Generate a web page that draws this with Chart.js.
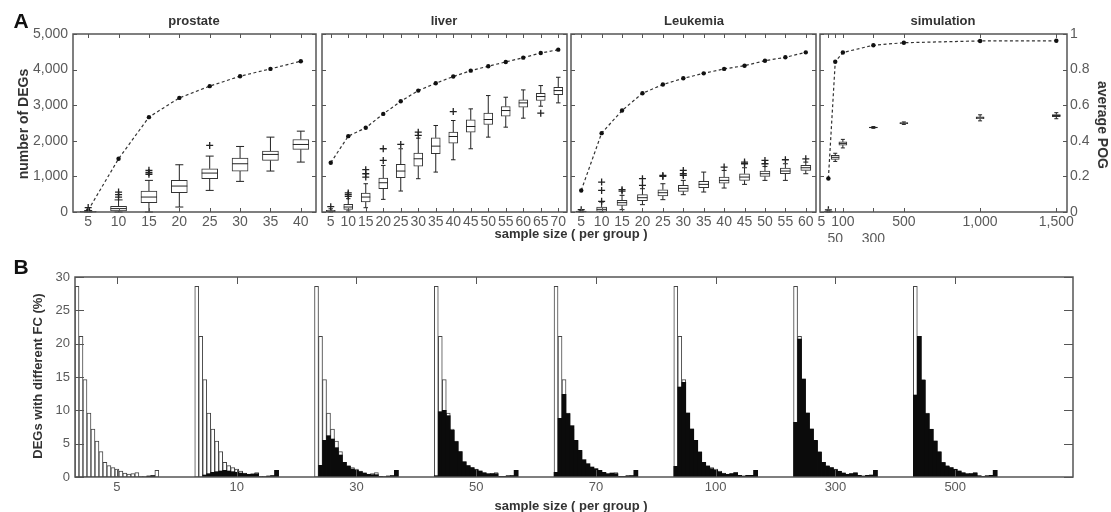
<!DOCTYPE html>
<html>
<head>
<meta charset="utf-8">
<title>DEGs and sample size</title>
<script src="https://cdn.jsdelivr.net/npm/chart.js@4.4.1/dist/chart.umd.min.js"></script>
<style>
  body { margin: 0; background: #fff; }
  #wrap { position: relative; width: 1111px; height: 512px; overflow: hidden; font-family: 'Liberation Sans', Arial, sans-serif; }
  #wrap canvas { position: absolute; left: 0; top: 0; }
  .t { position: absolute; transform: translate(-50%, -50%); white-space: nowrap; color: #333; font-weight: bold; font-size: 13px; }
  .up { transform: translate(-50%, -50%) rotate(-90deg); }
  .down { transform: translate(-50%, -50%) rotate(90deg); }
</style>
</head>
<body>
<div id="wrap">
  <canvas id="cProstate" width="1111" height="512"></canvas>
  <canvas id="cLiver" width="1111" height="512"></canvas>
  <canvas id="cLeuk" width="1111" height="512"></canvas>
  <canvas id="cSim" width="1111" height="512"></canvas>
  <canvas id="cHist" width="1111" height="512"></canvas>

  <div class="t" style="left:21px;top:21px;font-size:21px;color:#111">A</div>
  <div class="t" style="left:21px;top:267px;font-size:21px;color:#111">B</div>
  <div class="t" style="left:194px;top:20px">prostate</div>
  <div class="t" style="left:444px;top:20px">liver</div>
  <div class="t" style="left:694px;top:20px">Leukemia</div>
  <div class="t" style="left:943px;top:20px">simulation</div>
  <div class="t up" style="left:23px;top:124px;font-size:14px">number of DEGs</div>
  <div class="t down" style="left:1103px;top:125px;font-size:14px">average POG</div>
  <div class="t" style="left:571px;top:233px">sample size ( per group )</div>
  <div class="t up" style="left:37px;top:376px">DEGs with different FC (%)</div>
  <div class="t" style="left:571px;top:505px">sample size ( per group )</div>
</div>
<script>
Chart.defaults.font.family = "'Liberation Sans', Arial, sans-serif";
Chart.defaults.color = '#5a5a5a';

// ---- panel A : boxes are [lower whisker, q1, median, q3, upper whisker] (number of DEGs)
const degTicks = [0, 1000, 2000, 3000, 4000, 5000];
const pogTicks = [0, 0.2, 0.4, 0.6, 0.8, 1];

const prostateN = [5, 10, 15, 20, 25, 30, 35, 40];
const prostateBox = [
  [0, 0, 5, 20, 40], [0, 30, 95, 160, 340], [0, 262, 420, 589, 888], [140, 542, 729, 888, 1327],
  [607, 935, 1093, 1215, 1570], [860, 1150, 1355, 1514, 1841], [1150, 1449, 1617, 1710, 2103], [1402, 1757, 1897, 2037, 2271]
];
const prostateOut = [[5, 125], [10, 420], [10, 490], [10, 560], [15, 1060], [15, 1110], [15, 1170], [25, 1870]];
const prostatePOG = [0.01, 0.299, 0.533, 0.641, 0.707, 0.763, 0.804, 0.847];

const liverN = [5, 10, 15, 20, 25, 30, 35, 40, 45, 50, 55, 60, 65, 70];
const liverBox = [
  [0, 0, 20, 50, 90], [28, 75, 140, 215, 374], [121, 280, 420, 533, 794], [355, 654, 822, 953, 1308],
  [589, 963, 1150, 1336, 1776], [935, 1290, 1495, 1654, 2075], [1121, 1636, 1850, 2084, 2430],
  [1467, 1935, 2121, 2243, 2570], [1776, 2243, 2402, 2589, 2897], [2103, 2458, 2598, 2776, 3271],
  [2383, 2692, 2850, 2963, 3224], [2636, 2944, 3065, 3150, 3430], [2972, 3131, 3243, 3336, 3551],
  [3065, 3299, 3411, 3505, 3785]
];
const liverOut = [[5, 150], [10, 440], [10, 490], [10, 535], [15, 980], [15, 1075], [15, 1190], [20, 1450], [20, 1776],
  [25, 1897], [30, 2150], [30, 2243], [40, 2822], [65, 2776]];
const liverPOG = [0.277, 0.426, 0.473, 0.551, 0.622, 0.682, 0.723, 0.761, 0.794, 0.819, 0.843, 0.867, 0.893, 0.912];

const leukN = [5, 10, 15, 20, 25, 30, 35, 40, 45, 50, 55, 60];
const leukBox = [
  [0, 0, 10, 25, 50], [0, 19, 75, 140, 280], [65, 187, 262, 327, 467], [206, 318, 402, 486, 654],
  [346, 449, 542, 626, 794], [486, 579, 664, 748, 888], [561, 682, 776, 860, 1121], [673, 813, 888, 981, 1168],
  [776, 888, 981, 1075, 1243], [888, 1000, 1075, 1150, 1280], [888, 1075, 1150, 1234, 1355], [1075, 1168, 1243, 1308, 1402]
];
const leukOut = [[5, 65], [10, 300], [10, 607], [10, 841], [15, 589], [15, 626], [20, 748], [20, 935], [25, 1000], [25, 1028],
  [30, 1028], [30, 1075], [30, 1168], [40, 1262], [45, 1355], [45, 1402], [50, 1355], [50, 1449], [55, 1467], [60, 1495]];
const leukPOG = [0.121, 0.443, 0.570, 0.667, 0.716, 0.751, 0.779, 0.804, 0.822, 0.850, 0.869, 0.897];

const simN = [5, 50, 100, 300, 500, 1000, 1500];
const simBox = [
  [0, 0, 5, 15, 30], [1420, 1480, 1536, 1590, 1650], [1800, 1880, 1927, 1970, 2040], [2350, 2365, 2374, 2385, 2400],
  [2460, 2480, 2494, 2510, 2530], [2560, 2620, 2645, 2670, 2730], [2620, 2680, 2709, 2735, 2790]
];
const simOut = [[5, 60]];
const simPOG = [0.188, 0.844, 0.896, 0.937, 0.951, 0.961, 0.962];
const simTickLabels = ['5\u2003', ['', '50'], '100', ['', '300'], '500', '1,000', '1,500'];

// ---- panel B : % of DEGs per fold-change bin
const groupLabels = ['5', '10', '30', '50', '70', '100', '300', '500'];
const trueFC = [28.6, 21.1, 14.6, 9.6, 7.2, 5.4, 3.8, 2.2, 1.7, 1.4, 1.2, 0.9, 0.6, 0.45, 0.5, 0.65, 0.05, 0.05, 0.15, 0.2, 1.0];
const fc5   = [0, 0, 0, 0, 0, 0, 0, 0, 0, 0, 0, 0, 0, 0, 0, 0, 0, 0, 0.15, 0.2, 0];
const fc10  = [0, 0, 0.3, 0.5, 0.7, 0.8, 0.9, 1.0, 0.9, 0.8, 0.7, 0.6, 0.5, 0.4, 0.4, 0.5, 0.05, 0.05, 0.15, 0.2, 1.0];
const fc30  = [0, 1.75, 5.5, 6.2, 5.7, 4.4, 3.3, 2.2, 1.6, 1.2, 1.0, 0.8, 0.6, 0.4, 0.35, 0.35, 0.1, 0.05, 0.15, 0.2, 1.0];
const fc50  = [0.2, 9.8, 10.0, 9.2, 7.0, 5.3, 3.8, 2.3, 1.7, 1.4, 1.1, 0.9, 0.65, 0.5, 0.5, 0.5, 0.1, 0.1, 0.2, 0.2, 1.0];
const fc70  = [0.7, 8.8, 12.4, 9.5, 7.7, 5.5, 4.0, 2.6, 2.0, 1.5, 1.25, 1.0, 0.7, 0.5, 0.6, 0.5, 0.1, 0.1, 0.2, 0.2, 1.0];
const fc100 = [1.6, 13.5, 14.2, 9.6, 7.2, 5.5, 3.7, 2.2, 1.6, 1.25, 1.0, 0.75, 0.5, 0.4, 0.5, 0.65, 0.25, 0.15, 0.25, 0.25, 1.0];
const fc300 = [8.2, 20.7, 14.7, 9.6, 7.2, 5.5, 3.7, 2.2, 1.6, 1.4, 1.1, 0.85, 0.6, 0.4, 0.5, 0.6, 0.25, 0.15, 0.25, 0.3, 1.0];
const fc500 = [12.3, 21.1, 14.5, 9.5, 7.15, 5.4, 3.75, 2.15, 1.6, 1.4, 1.15, 0.9, 0.65, 0.5, 0.5, 0.6, 0.2, 0.1, 0.2, 0.25, 1.0];
const estFC = [fc5, fc10, fc30, fc50, fc70, fc100, fc300, fc500];
const fcTicks = [0, 5, 10, 15, 20, 25, 30];

const GROUP_STEP = 30; // bins between group starts

// box frame with inward ticks, like matlab
function framePlugin(lenX, lenY) {
  return {
    id: 'frame',
    afterDraw(chart) {
      const a = chart.chartArea, ctx = chart.ctx;
      const xs = chart.scales.x, ys = chart.scales.y;
      ctx.save();
      ctx.strokeStyle = '#555';
      ctx.lineWidth = 1;
      ctx.beginPath();
      xs.ticks.forEach(t => {
        const p = Math.round(xs.getPixelForValue(t.value)) + 0.5;
        ctx.moveTo(p, a.top); ctx.lineTo(p, a.top + lenX);
        ctx.moveTo(p, a.bottom); ctx.lineTo(p, a.bottom - lenX);
      });
      ys.ticks.forEach(t => {
        const p = Math.round(ys.getPixelForValue(t.value)) + 0.5;
        ctx.moveTo(a.left, p); ctx.lineTo(a.left + lenY, p);
        ctx.moveTo(a.right, p); ctx.lineTo(a.right - lenY, p);
      });
      ctx.stroke();
      ctx.lineWidth = 1.5;
      ctx.strokeRect(a.left, a.top, a.right - a.left, a.bottom - a.top);
      ctx.restore();
    }
  };
}

// whiskers + median lines on top of the floating bars
function whiskerPlugin(xs, box, w) {
  return {
    id: 'whisk',
    afterDatasetsDraw(chart) {
      const sx = chart.scales.x, sy = chart.scales.y, ctx = chart.ctx;
      ctx.save();
      ctx.strokeStyle = '#222';
      ctx.lineWidth = 1;
      ctx.beginPath();
      box.forEach((b, i) => {
        const px = sx.getPixelForValue(xs[i]);
        const [lo, q1, md, q3, hi] = b.map(v => sy.getPixelForValue(v));
        ctx.moveTo(px, q3); ctx.lineTo(px, hi);
        ctx.moveTo(px, q1); ctx.lineTo(px, lo);
        ctx.moveTo(px - w / 4, hi); ctx.lineTo(px + w / 4, hi);
        ctx.moveTo(px - w / 4, lo); ctx.lineTo(px + w / 4, lo);
        ctx.moveTo(px - w / 2, md); ctx.lineTo(px + w / 2, md);
      });
      ctx.stroke();
      ctx.restore();
    }
  };
}

function panelA(id, p) {
  const xs = p.xs;
  const xOf = n => xs[p.sizes.indexOf(n)];
  new Chart(document.getElementById(id), {
    type: 'bar',
    data: {
      datasets: [
        { type: 'scatter', data: p.out.map(o => ({ x: xOf(o[0]), y: o[1] })), pointStyle: 'cross', pointRadius: 3.5,
          borderColor: '#222', borderWidth: 1.3, order: 0 },
        { type: 'line', yAxisID: 'y2', data: p.pog.map((v, i) => ({ x: xs[i], y: v })), borderColor: '#333', borderWidth: 1.2,
          borderDash: [3, 2.5], pointRadius: 2.2, pointBackgroundColor: '#111', pointBorderWidth: 0, tension: 0, fill: false, order: 1 },
        { type: 'bar', data: p.box.map((b, i) => ({ x: xs[i], y: [b[1], b[3]] })), backgroundColor: '#fff',
          borderColor: '#333', borderWidth: 1, borderSkipped: false, barThickness: p.boxW, order: 2 }
      ]
    },
    options: {
      responsive: false, animation: false, events: [],
      layout: { autoPadding: false, padding: { left: p.l - p.leftW, right: 1111 - p.r - p.rightW, top: 34, bottom: 512 - 212 - 30 } },
      plugins: { legend: { display: false }, tooltip: { enabled: false } },
      scales: {
        x: {
          type: 'linear', position: 'bottom', min: p.xmin, max: p.xmax, offset: false,
          grid: { display: false, drawTicks: false }, border: { display: false },
          afterFit: s => { s.height = 30; },
          afterBuildTicks: s => { s.ticks = xs.map(v => ({ value: v })); },
          ticks: { autoSkip: false, maxRotation: 0, minRotation: 0, padding: 2, font: { size: 14 }, callback: p.xLabel }
        },
        y: {
          position: 'left', min: 0, max: 5000,
          grid: { display: false, drawTicks: false }, border: { display: false },
          afterFit: s => { s.width = p.leftW; },
          afterBuildTicks: s => { s.ticks = degTicks.map(v => ({ value: v })); },
          ticks: { display: p.leftW > 0, padding: 5, font: { size: 14 }, callback: v => v.toLocaleString('en-US') }
        },
        y2: {
          position: 'right', min: 0, max: 1,
          grid: { display: false, drawTicks: false }, border: { display: false },
          afterFit: s => { s.width = p.rightW; },
          afterBuildTicks: s => { s.ticks = pogTicks.map(v => ({ value: v })); },
          ticks: { display: p.rightW > 0, padding: 3, font: { size: 14 }, callback: v => String(+v.toFixed(1)) }
        }
      }
    },
    plugins: [whiskerPlugin(xs, p.box, p.boxW), framePlugin(4, 4)]
  });
}

const idx = arr => arr.map((_, i) => i + 1);

panelA('cProstate', { sizes: prostateN, xs: idx(prostateN), box: prostateBox, out: prostateOut, pog: prostatePOG,
  xmin: 0.5, xmax: prostateN.length + 0.5, boxW: 16, l: 73, r: 316, leftW: 60, rightW: 0,
  xLabel: v => String(prostateN[v - 1]) });
panelA('cLiver', { sizes: liverN, xs: idx(liverN), box: liverBox, out: liverOut, pog: liverPOG,
  xmin: 0.5, xmax: liverN.length + 0.5, boxW: 9, l: 322, r: 567, leftW: 0, rightW: 0,
  xLabel: v => String(liverN[v - 1]) });
panelA('cLeuk', { sizes: leukN, xs: idx(leukN), box: leukBox, out: leukOut, pog: leukPOG,
  xmin: 0.5, xmax: leukN.length + 0.5, boxW: 10, l: 571, r: 816, leftW: 0, rightW: 0,
  xLabel: v => String(leukN[v - 1]) });
panelA('cSim', { sizes: simN, xs: simN, box: simBox, out: simOut, pog: simPOG,
  xmin: -50, xmax: 1570, boxW: 8, l: 820, r: 1067, leftW: 0, rightW: 40,
  xLabel: v => simTickLabels[simN.indexOf(v)] });

// ---- panel B
const whitePts = [], blackPts = [];
estFC.forEach((arr, g) => {
  trueFC.forEach((v, b) => whitePts.push({ x: g * GROUP_STEP + b, y: v }));
  arr.forEach((v, b) => blackPts.push({ x: g * GROUP_STEP + b, y: v }));
});
const groupTicks = groupLabels.map((_, g) => g * GROUP_STEP + 10);

new Chart(document.getElementById('cHist'), {
  type: 'bar',
  data: {
    datasets: [
      { data: blackPts, backgroundColor: '#0b0b0b', borderWidth: 0, barThickness: 4, grouped: false, order: 0 },
      { data: whitePts, backgroundColor: '#fff', borderColor: '#444', borderWidth: 1, barThickness: 4, grouped: false, order: 1 }
    ]
  },
  options: {
    responsive: false, animation: false, events: [],
    layout: { autoPadding: false, padding: { left: 75 - 50, right: 1111 - 1073, top: 277, bottom: 512 - 477 - 25 } },
    plugins: { legend: { display: false }, tooltip: { enabled: false } },
    scales: {
      x: {
        type: 'linear', min: -0.5, max: 249.5, offset: false,
        grid: { display: false, drawTicks: false }, border: { display: false },
        afterFit: s => { s.height = 25; },
        afterBuildTicks: s => { s.ticks = groupTicks.map(v => ({ value: v })); },
        ticks: { autoSkip: false, maxRotation: 0, padding: 3, font: { size: 13 },
          callback: v => groupLabels[groupTicks.indexOf(v)] }
      },
      y: {
        min: 0, max: 30,
        grid: { display: false, drawTicks: false }, border: { display: false },
        afterFit: s => { s.width = 50; },
        afterBuildTicks: s => { s.ticks = fcTicks.map(v => ({ value: v })); },
        ticks: { padding: 5, font: { size: 13 } }
      }
    }
  },
  plugins: [framePlugin(7, 9)]
});
</script>
</body>
</html>
